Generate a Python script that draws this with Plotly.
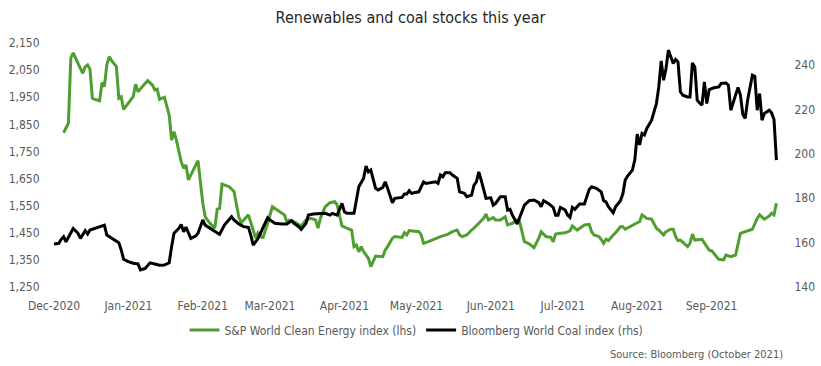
import plotly.graph_objects as go

# ---------------- data ----------------
clean_dates = [
    "2020-12-05","2020-12-07","2020-12-08","2020-12-09","2020-12-11","2020-12-13","2020-12-14","2020-12-15",
    "2020-12-16","2020-12-17","2020-12-18","2020-12-20","2020-12-21","2020-12-22","2020-12-23","2020-12-24",
    "2020-12-25","2020-12-27","2020-12-28","2020-12-29","2020-12-30","2021-01-01","2021-01-03","2021-01-04",
    "2021-01-05","2021-01-07","2021-01-09","2021-01-11","2021-01-12","2021-01-13","2021-01-14","2021-01-16",
    "2021-01-18","2021-01-19","2021-01-20","2021-01-21","2021-01-23","2021-01-24","2021-01-25","2021-01-26",
    "2021-01-30","2021-02-01","2021-02-02","2021-02-04","2021-02-06","2021-02-07","2021-02-08","2021-02-09",
    "2021-02-12","2021-02-14","2021-02-16","2021-02-17","2021-02-20","2021-02-22","2021-02-23","2021-02-24",
    "2021-02-26","2021-02-28","2021-03-02","2021-03-04","2021-03-06","2021-03-07","2021-03-08","2021-03-09",
    "2021-03-11","2021-03-14","2021-03-16","2021-03-18","2021-03-20","2021-03-21","2021-03-22","2021-03-24",
    "2021-03-26","2021-03-28","2021-03-29","2021-03-30","2021-03-31","2021-04-02","2021-04-04","2021-04-05",
    "2021-04-06","2021-04-07","2021-04-08","2021-04-09","2021-04-11","2021-04-12","2021-04-14","2021-04-17",
    "2021-04-18","2021-04-19","2021-04-21","2021-04-22","2021-04-25","2021-04-26","2021-04-27","2021-04-28",
    "2021-05-02","2021-05-03","2021-05-04","2021-05-06","2021-05-09","2021-05-11","2021-05-14","2021-05-16",
    "2021-05-18","2021-05-19","2021-05-20","2021-05-22","2021-05-24","2021-05-25","2021-05-27","2021-05-29",
    "2021-05-30","2021-05-31","2021-06-02","2021-06-03","2021-06-05","2021-06-07","2021-06-08","2021-06-10",
    "2021-06-12","2021-06-13","2021-06-14","2021-06-15","2021-06-17","2021-06-19","2021-06-21","2021-06-22",
    "2021-06-24","2021-06-26","2021-06-27","2021-06-28","2021-06-30","2021-07-02","2021-07-04","2021-07-05",
    "2021-07-07","2021-07-10","2021-07-12","2021-07-13","2021-07-14","2021-07-16","2021-07-17","2021-07-18",
    "2021-07-19","2021-07-20","2021-07-22","2021-07-23","2021-07-25","2021-07-26","2021-07-27","2021-07-30",
    "2021-08-01","2021-08-02","2021-08-03","2021-08-05","2021-08-07","2021-08-09","2021-08-10","2021-08-12",
    "2021-08-13","2021-08-15","2021-08-16","2021-08-17","2021-08-18","2021-08-19","2021-08-22","2021-08-23",
    "2021-08-24","2021-08-25","2021-08-27","2021-08-28","2021-08-30","2021-08-31","2021-09-01","2021-09-02",
    "2021-09-04","2021-09-06","2021-09-07","2021-09-09","2021-09-11","2021-09-13","2021-09-15","2021-09-17",
    "2021-09-18","2021-09-20","2021-09-21","2021-09-23","2021-09-25","2021-09-26","2021-09-27","2021-09-28",
]
clean_values = [
    1819,1854,2094,2114,2075,2038,2063,2069,
    2053,1946,1942,1937,2004,1989,2069,2100,
    2085,2063,1946,1952,1905,1928,1952,1998,
    1970,1991,2011,1995,1977,1980,1942,1950,
    1884,1792,1823,1792,1712,1688,1700,1645,
    1716,1559,1509,1485,1467,1537,1540,1630,
    1620,1602,1509,1487,1516,1460,1430,1450,
    1430,1485,1546,1534,1522,1516,1491,1497,
    1491,1475,1497,1503,1497,1467,1503,1546,
    1561,1565,1552,1509,1475,1467,1460,1399,
    1405,1380,1399,1380,1356,1325,1364,1362,
    1386,1399,1430,1436,1433,1450,1442,1458,
    1454,1442,1411,1417,1430,1436,1444,1454,
    1460,1442,1436,1442,1460,1467,1485,1503,
    1519,1497,1506,1497,1497,1509,1479,1485,
    1497,1491,1454,1417,1409,1395,1430,1454,
    1436,1433,1417,1445,1448,1450,1457,1475,
    1460,1479,1481,1454,1442,1436,1426,1411,
    1426,1421,1442,1450,1472,1472,1463,1479,
    1487,1491,1516,1503,1500,1467,1460,1442,
    1454,1463,1463,1436,1421,1423,1399,1411,
    1445,1423,1426,1426,1399,1386,1384,1374,
    1352,1350,1368,1362,1368,1448,1454,1460,
    1463,1503,1516,1500,1512,1522,1516,1559,
]

coal_dates = [
    "2020-12-01","2020-12-03","2020-12-04","2020-12-05","2020-12-06","2020-12-08","2020-12-09","2020-12-11",
    "2020-12-12","2020-12-14","2020-12-15","2020-12-16","2020-12-18","2020-12-20","2020-12-22","2020-12-23",
    "2020-12-25","2020-12-28","2020-12-29","2020-12-30","2021-01-01","2021-01-03","2021-01-05","2021-01-06",
    "2021-01-08","2021-01-09","2021-01-10","2021-01-12","2021-01-14","2021-01-16","2021-01-18","2021-01-19",
    "2021-01-20","2021-01-22","2021-01-23","2021-01-24","2021-01-25","2021-01-27","2021-01-29","2021-01-30",
    "2021-02-01","2021-02-02","2021-02-04","2021-02-07","2021-02-08","2021-02-10","2021-02-12","2021-02-13",
    "2021-02-14","2021-02-16","2021-02-18","2021-02-20","2021-02-21","2021-02-22","2021-02-24","2021-02-25",
    "2021-02-27","2021-02-28","2021-03-01","2021-03-03","2021-03-06","2021-03-08","2021-03-10","2021-03-11",
    "2021-03-13","2021-03-14","2021-03-16","2021-03-17","2021-03-19","2021-03-22","2021-03-24","2021-03-26",
    "2021-03-27","2021-03-29","2021-03-30","2021-03-31","2021-04-01","2021-04-02","2021-04-05","2021-04-06",
    "2021-04-07","2021-04-09","2021-04-10","2021-04-11","2021-04-12","2021-04-14","2021-04-15","2021-04-17",
    "2021-04-18","2021-04-19","2021-04-21","2021-04-22","2021-04-24","2021-04-25","2021-04-26","2021-04-27",
    "2021-04-28","2021-04-29","2021-04-30","2021-05-02","2021-05-03","2021-05-04","2021-05-05","2021-05-07",
    "2021-05-09","2021-05-10","2021-05-11","2021-05-12","2021-05-13","2021-05-15","2021-05-16","2021-05-18",
    "2021-05-19","2021-05-21","2021-05-22","2021-05-24","2021-05-25","2021-05-26","2021-05-27","2021-05-28",
    "2021-05-29","2021-05-30","2021-06-01","2021-06-02","2021-06-03","2021-06-05","2021-06-07","2021-06-08",
    "2021-06-09","2021-06-10","2021-06-12","2021-06-14","2021-06-15","2021-06-17","2021-06-19","2021-06-21",
    "2021-06-22","2021-06-23","2021-06-25","2021-06-27","2021-06-28","2021-06-29","2021-06-30","2021-07-02",
    "2021-07-03","2021-07-04","2021-07-05","2021-07-06","2021-07-08","2021-07-10","2021-07-11","2021-07-12",
    "2021-07-13","2021-07-15","2021-07-17","2021-07-18","2021-07-19","2021-07-20","2021-07-22","2021-07-23",
    "2021-07-25","2021-07-26","2021-07-27","2021-07-28","2021-07-30","2021-07-31","2021-08-01","2021-08-02",
    "2021-08-03","2021-08-04","2021-08-05","2021-08-07","2021-08-09","2021-08-10","2021-08-11","2021-08-12",
    "2021-08-13","2021-08-14","2021-08-16","2021-08-17","2021-08-18","2021-08-19","2021-08-20","2021-08-22",
    "2021-08-23","2021-08-24","2021-08-25","2021-08-26","2021-08-27","2021-08-28","2021-08-29","2021-08-30",
    "2021-08-31","2021-09-01","2021-09-02","2021-09-04","2021-09-05","2021-09-07","2021-09-08","2021-09-09",
    "2021-09-10","2021-09-12","2021-09-13","2021-09-14","2021-09-15","2021-09-16","2021-09-18","2021-09-19",
    "2021-09-20","2021-09-21","2021-09-22","2021-09-23","2021-09-25","2021-09-26","2021-09-27","2021-09-28",
]
coal_values = [
    159.4,159.7,161.5,162.7,160.4,164.5,166.4,164.2,
    161.9,165.4,163.9,165.7,166.4,167.2,167.9,163.4,
    161.9,160.0,156.7,152.5,151.4,150.7,150.4,147.7,
    148.4,149.5,150.9,150.4,149.8,149.9,150.9,158.2,
    164.2,166.4,168.2,164.9,167.0,161.9,163.0,164.2,
    170.2,167.9,166.4,164.2,163.7,167.9,170.2,171.7,
    170.2,168.4,167.2,166.9,163.4,158.9,161.9,164.2,
    168.7,171.2,170.2,168.7,168.4,168.4,169.9,168.7,
    167.2,166.0,168.7,172.4,172.9,172.9,173.2,172.4,
    173.2,172.4,174.7,177.7,173.9,173.2,173.2,179.2,
    185.2,189.0,194.5,191.9,192.7,184.5,183.7,184.9,
    187.4,184.5,178.0,180.0,180.4,180.4,181.9,181.9,
    183.4,182.2,182.5,182.9,185.2,187.4,186.7,187.0,
    187.4,186.7,190.5,189.7,191.5,191.5,190.5,189.0,
    182.9,182.2,180.7,181.4,185.9,187.4,191.9,188.2,
    184.0,180.0,180.2,176.9,177.7,180.7,180.7,174.7,
    175.0,172.4,168.4,173.9,176.9,178.9,179.2,178.0,
    176.2,178.9,177.7,175.9,172.4,172.4,175.9,174.7,
    172.4,171.4,175.9,175.0,177.4,177.4,180.4,184.0,
    185.2,184.5,182.9,178.9,178.4,176.2,173.5,176.2,
    178.9,181.9,188.2,190.0,192.7,197.2,208.9,204.0,
    209.2,208.5,211.5,215.2,222.7,230.2,241.9,233.2,
    238.5,246.8,240.8,242.6,241.5,228.0,226.5,225.7,
    225.7,241.0,239.2,224.2,223.0,222.0,232.5,222.7,
    229.0,229.5,229.8,230.2,231.8,232.0,231.0,219.7,
    223.5,230.0,226.5,217.9,216.0,224.2,235.5,235.0,
    219.7,227.2,215.2,218.2,219.7,218.5,215.5,197.2,
]

month_ticks = ["2020-12-01","2021-01-01","2021-02-01","2021-03-01","2021-04-01","2021-05-01",
               "2021-06-01","2021-07-01","2021-08-01","2021-09-01"]
month_labels = ["Dec-2020","Jan-2021","Feb-2021","Mar-2021","Apr-2021","May-2021",
                "Jun-2021","Jul-2021","Aug-2021","Sep-2021"]
left_ticks = [1250, 1350, 1450, 1550, 1650, 1750, 1850, 1950, 2050, 2150]
right_ticks = [140, 160, 180, 200, 220, 240]

title_text = "Renewables and coal stocks this year"
clean_name = "S&P World Clean Energy index (lhs)"
coal_name = "Bloomberg World Coal index (rhs)"
source_text = "Source: Bloomberg (October 2021)"

# ---------------- figure ----------------
FONT = "'Liberation Sans Narrow', 'Arial Narrow', 'DejaVu Sans Condensed', sans-serif"
GREEN = "#4E9F30"
GREY = "#595959"

fig = go.Figure()
fig.add_trace(go.Scatter(x=clean_dates, y=clean_values, name=clean_name, mode="lines",
                         line=dict(color=GREEN, width=3), yaxis="y"))
fig.add_trace(go.Scatter(x=coal_dates, y=coal_values, name=coal_name, mode="lines",
                         line=dict(color="#000000", width=3), yaxis="y2"))

fig.update_layout(
    width=821, height=366,
    margin=dict(l=48, r=36, t=43, b=79, autoexpand=False),
    paper_bgcolor="white", plot_bgcolor="white",
    font=dict(family=FONT, color=GREY, size=12),
    title=dict(text=title_text, x=0.5, xanchor="center", y=1 - 17 / 366, yanchor="middle",
               font=dict(family=FONT, size=16, color="#262626")),
    xaxis=dict(type="date", range=["2020-11-28 12:00", "2021-10-01 14:00"],
               tickmode="array", tickvals=month_ticks, ticktext=month_labels,
               showgrid=False, zeroline=False, showline=False, automargin=False,
               ticks="outside", ticklen=8, tickcolor="rgba(0,0,0,0)",
               tickfont=dict(size=12, color=GREY)),
    yaxis=dict(range=[1250, 2150], tickmode="array", tickvals=left_ticks,
               tickformat=",d", showgrid=False, zeroline=False, showline=False, automargin=False,
               ticks="outside", ticklen=5, tickcolor="rgba(0,0,0,0)",
               tickfont=dict(size=12, color=GREY)),
    yaxis2=dict(range=[140, 250], tickmode="array", tickvals=right_ticks,
                overlaying="y", side="right", showgrid=False, zeroline=False, showline=False,
                automargin=False,
                ticks="outside", ticklen=6, tickcolor="rgba(0,0,0,0)",
                tickfont=dict(size=12, color=GREY)),
    legend=dict(orientation="h", x=0.5, xanchor="center", y=-0.176, yanchor="middle",
                font=dict(size=12, color=GREY), itemwidth=30, tracegroupgap=0,
                bgcolor="rgba(0,0,0,0)"),
    showlegend=True,
)

fig.add_annotation(text=source_text, xref="paper", yref="paper",
                   x=1.0, xanchor="right", y=(287 - 354) / 244, yanchor="middle",
                   showarrow=False, font=dict(family=FONT, size=11, color=GREY))

fig.write_html("out.html", config={"displayModeBar": False},
               post_script="document.body.style.margin='0px';")
